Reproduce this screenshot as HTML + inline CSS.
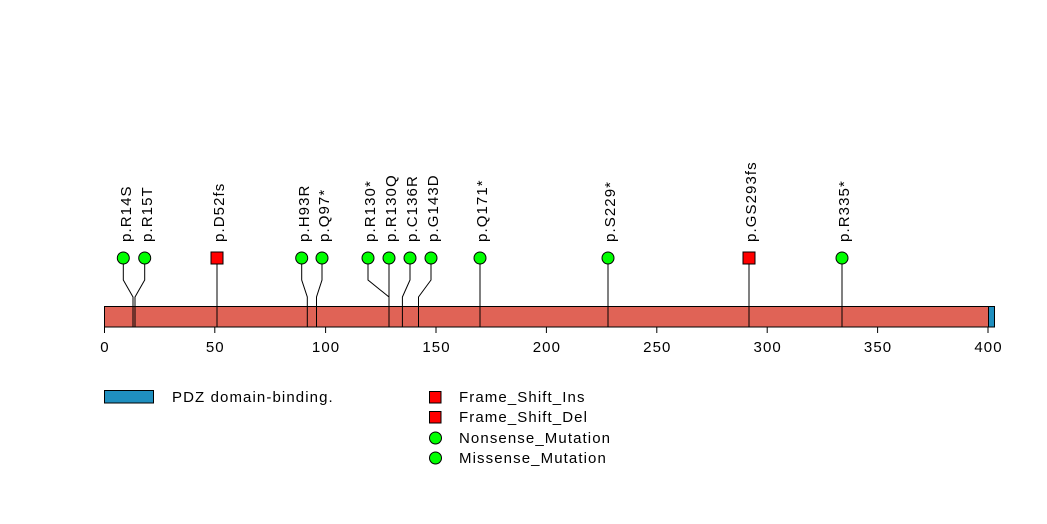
<!DOCTYPE html>
<html><head><meta charset="utf-8"><style>
html,body{margin:0;padding:0;background:#fff;}
svg{display:block;}
text{font-family:"Liberation Sans",sans-serif;fill:#000;font-size:15px;letter-spacing:1.1px;}
</style></head><body>
<svg width="1047" height="524" viewBox="0 0 1047 524" xmlns="http://www.w3.org/2000/svg">
<g stroke="#000" stroke-width="1" fill="none">
<polyline points="123.3,264 123.3,280 133,297 133,327"/>
<polyline points="144.7,264 144.7,280 135,297 135,327"/>
<polyline points="217,264 217,327"/>
<polyline points="301.7,264 301.7,280 307.3,297 307.3,327"/>
<polyline points="322,264 322,280 316.5,297 316.5,327"/>
<polyline points="368,264 368,280 389,297 389,327"/>
<polyline points="389,264 389,327"/>
<polyline points="410,264 410,280 402.4,297 402.4,327"/>
<polyline points="431,264 431,280 418.5,297 418.5,327"/>
<polyline points="480,264 480,327"/>
<polyline points="608,264 608,327"/>
<polyline points="749,264 749,327"/>
<polyline points="842,264 842,327"/>
</g>
<rect x="104.5" y="306.5" width="884" height="20.5" fill="#e06356" stroke="#000"/>
<rect x="988.5" y="306.5" width="6" height="20.5" fill="#1f8fbf" stroke="#000"/>
<g stroke="#000" stroke-width="1">
<line x1="133" y1="306" x2="133" y2="327"/><line x1="135" y1="306" x2="135" y2="327"/>
<line x1="217" y1="306" x2="217" y2="327"/><line x1="307.3" y1="306" x2="307.3" y2="327"/>
<line x1="316.5" y1="306" x2="316.5" y2="327"/><line x1="389" y1="306" x2="389" y2="327"/>
<line x1="402.4" y1="306" x2="402.4" y2="327"/><line x1="418.5" y1="306" x2="418.5" y2="327"/>
<line x1="480" y1="306" x2="480" y2="327"/><line x1="608" y1="306" x2="608" y2="327"/>
<line x1="749" y1="306" x2="749" y2="327"/><line x1="842" y1="306" x2="842" y2="327"/>
</g>
<g stroke="#000" fill="#00ff00">
<circle cx="123.3" cy="258" r="6"/><circle cx="144.7" cy="258" r="6"/>
<circle cx="301.7" cy="258" r="6"/><circle cx="322" cy="258" r="6"/>
<circle cx="368" cy="258" r="6"/><circle cx="389" cy="258" r="6"/>
<circle cx="410" cy="258" r="6"/><circle cx="431" cy="258" r="6"/>
<circle cx="480" cy="258" r="6"/><circle cx="608" cy="258" r="6"/>
<circle cx="842" cy="258" r="6"/>
</g>
<g stroke="#000" fill="#ff0000">
<rect x="211" y="252" width="12" height="12"/>
<rect x="743" y="252" width="12" height="12"/>
</g>
<g>
<text transform="translate(131,242) rotate(-90)">p.R14S</text>
<text transform="translate(152,242) rotate(-90)">p.R15T</text>
<text transform="translate(224,242) rotate(-90)">p.D52fs</text>
<text transform="translate(309,242) rotate(-90)">p.H93R</text>
<text transform="translate(329,242) rotate(-90)">p.Q97*</text>
<text transform="translate(375,242) rotate(-90)">p.R130*</text>
<text transform="translate(396,242) rotate(-90)">p.R130Q</text>
<text transform="translate(417,242) rotate(-90)">p.C136R</text>
<text transform="translate(438,242) rotate(-90)">p.G143D</text>
<text transform="translate(487,242) rotate(-90)">p.Q171*</text>
<text transform="translate(615,242) rotate(-90)">p.S229*</text>
<text transform="translate(756,242) rotate(-90)">p.GS293fs</text>
<text transform="translate(849,242) rotate(-90)">p.R335*</text>
</g>
<g stroke="#000">
<line x1="104.5" y1="327" x2="104.5" y2="333"/><line x1="214.8" y1="327" x2="214.8" y2="333"/>
<line x1="325.6" y1="327" x2="325.6" y2="333"/><line x1="436" y1="327" x2="436" y2="333"/>
<line x1="546.4" y1="327" x2="546.4" y2="333"/><line x1="656.8" y1="327" x2="656.8" y2="333"/>
<line x1="767.2" y1="327" x2="767.2" y2="333"/><line x1="877.6" y1="327" x2="877.6" y2="333"/>
<line x1="988" y1="327" x2="988" y2="333"/>
</g>
<g text-anchor="middle">
<text x="105" y="352">0</text><text x="215.3" y="352">50</text><text x="326.1" y="352">100</text>
<text x="436.5" y="352">150</text><text x="546.9" y="352">200</text><text x="657.3" y="352">250</text>
<text x="767.7" y="352">300</text><text x="878.1" y="352">350</text><text x="988.5" y="352">400</text>
</g>
<rect x="104.5" y="390.5" width="49" height="12.5" fill="#1f8fbf" stroke="#000"/>
<text x="172" y="402">PDZ domain-binding.</text>
<rect x="429.5" y="391.5" width="11.5" height="11.5" fill="#ff0000" stroke="#000"/>
<rect x="429.5" y="411.5" width="11.5" height="11.5" fill="#ff0000" stroke="#000"/>
<circle cx="435.5" cy="438" r="6" fill="#00ff00" stroke="#000"/>
<circle cx="435.5" cy="458" r="6" fill="#00ff00" stroke="#000"/>
<g>
<text x="459" y="402">Frame_Shift_Ins</text>
<text x="459" y="422">Frame_Shift_Del</text>
<text x="459" y="443">Nonsense_Mutation</text>
<text x="459" y="463">Missense_Mutation</text>
</g>
</svg>
</body></html>
